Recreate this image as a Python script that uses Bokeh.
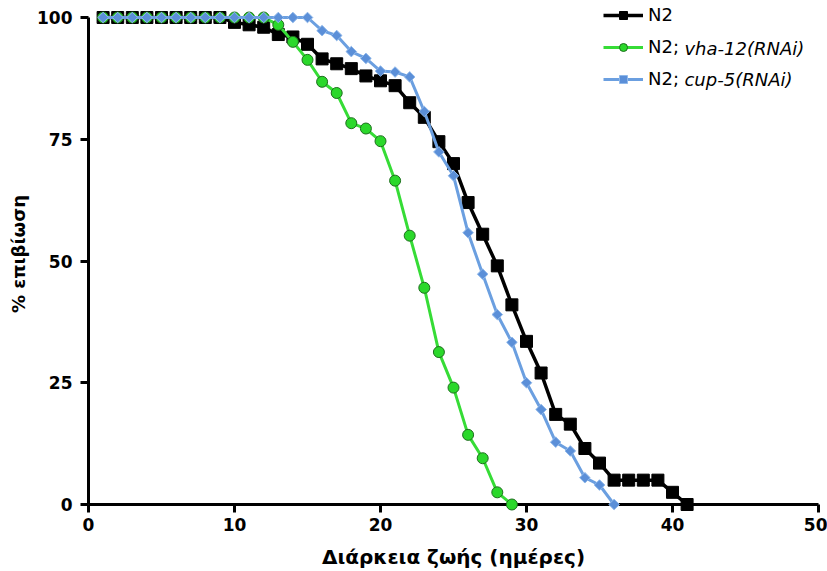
from bokeh.plotting import figure
from bokeh.models import Range1d, FixedTicker, Legend, LegendItem, Label
from bokeh.embed import file_html
from bokeh.resources import INLINE

# ---- data ----
days_n2 = list(range(1, 42))
surv_n2 = [100, 100, 100, 100, 100, 100, 100, 100, 100,
           99, 98.5, 98, 96.5, 96, 94.5, 91.5, 90.5, 89.5, 88, 87, 86,
           82.5, 79.5, 74.5, 70, 62, 55.5, 49, 41, 33.5, 27, 18.5, 16.5,
           11.5, 8.5, 5, 5, 5, 5, 2.5, 0]

days_vha = list(range(1, 30))
surv_vha = [100, 100, 100, 100, 100, 100, 100, 100, 100, 100, 100, 100,
            98.5, 95, 91.3, 86.8, 84.5, 78.3, 77.2, 74.6, 66.5, 55.2, 44.5,
            31.3, 24, 14.3, 9.5, 2.5, 0]

days_cup = list(range(1, 37))
surv_cup = [100, 100, 100, 100, 100, 100, 100, 100, 100, 100, 100, 100, 100, 100, 100,
            97.3, 96.3, 93, 91.6, 89, 88.8, 87.8, 80.7, 72.4, 67.5, 55.8, 47.3,
            39, 33.3, 25, 19.5, 12.8, 11, 5.5, 4, 0]

x_ticks = [0, 10, 20, 30, 40, 50]
y_ticks = [0, 25, 50, 75, 100]

series_names = ["N2", "N2;", "N2;"]
italic_parts = ["vha-12(RNAi)", "cup-5(RNAi)"]

x_title = "Διάρκεια ζωής (ημέρες)"
y_title = "% επιβίωση"

# ---- figure ----
# frame extends a little above 100 so the legend's first row is not clipped;
# the y axis line itself is bounded to 0..100
p = figure(width=827, height=571, output_backend="svg", toolbar_location=None,
           x_range=Range1d(0, 50), y_range=Range1d(0, 102.875),
           min_border_left=88, min_border_right=9, min_border_top=3, min_border_bottom=67)
p.outline_line_color = None
p.grid.visible = False
p.background_fill_color = "white"
p.border_fill_color = "white"

for ax in (p.xaxis[0], p.yaxis[0]):
    ax.axis_line_width = 3
    ax.axis_line_color = "black"
    ax.major_tick_line_width = 3
    ax.major_tick_line_color = "black"
    ax.major_tick_in = 0
    ax.major_tick_out = 8
    ax.minor_tick_line_color = None
    ax.major_label_text_font = "DejaVu Sans"
    ax.major_label_text_font_style = "bold"
    ax.major_label_text_font_size = "17px"
    ax.major_label_text_color = "black"
    ax.axis_label_text_font = "DejaVu Sans"
    ax.axis_label_text_font_style = "bold"
    ax.axis_label_text_color = "black"

p.yaxis.bounds = (0, 100)
p.xaxis.ticker = FixedTicker(ticks=x_ticks)
p.yaxis.ticker = FixedTicker(ticks=y_ticks)
p.xaxis.axis_label = x_title
p.yaxis.axis_label = y_title
p.xaxis.axis_label_text_font_size = "20px"
p.yaxis.axis_label_text_font_size = "18px"
p.xaxis.major_label_standoff = 5
p.yaxis.major_label_standoff = 8
p.xaxis.axis_label_standoff = 11
p.yaxis.axis_label_standoff = 5

# ---- series ----
black = "#000000"
green_line = "#36dc36"
green_fill = "#2bd82b"
green_edge = "#1d6e1d"
blue_line = "#6b9fe0"
blue_fill = "#5b8fd8"
blue_edge = "#8fb8ea"

l1 = p.line(days_n2, surv_n2, line_color=black, line_width=3.5, level="overlay")
m1 = p.scatter(days_n2, surv_n2, marker="square", size=12, fill_color=black,
               line_color=black, level="overlay")

l2 = p.line(days_vha, surv_vha, line_color=green_line, line_width=3, level="overlay")
m2 = p.scatter(days_vha, surv_vha, marker="circle", size=11, fill_color=green_fill,
               line_color=green_edge, line_width=1, level="overlay")

l3 = p.line(days_cup, surv_cup, line_color=blue_line, line_width=3, level="overlay")
m3 = p.scatter(days_cup, surv_cup, marker="square", size=7.5, angle=0.785398,
               fill_color=blue_fill, line_color=blue_edge, line_width=1, level="overlay")

legend = Legend(items=[LegendItem(label=series_names[0], renderers=[l1, m1]),
                       LegendItem(label=series_names[1], renderers=[l2, m2]),
                       LegendItem(label=series_names[2], renderers=[l3, m3])],
                location=(515, 415), glyph_width=40, glyph_height=20, label_height=20,
                spacing=11, label_standoff=5, padding=0, margin=0,
                border_line_color=None, background_fill_alpha=0,
                label_text_font="DejaVu Sans", label_text_font_size="18px",
                label_text_color="black")
p.add_layout(legend)

for txt, yy in zip(italic_parts, [93.6, 87.3]):
    p.add_layout(Label(x=40.82, y=yy, text=txt, text_font="DejaVu Sans",
                       text_font_style="italic", text_font_size="18px",
                       text_baseline="middle", text_color="black"))

open("out.html", "w").write(file_html(p, INLINE))
